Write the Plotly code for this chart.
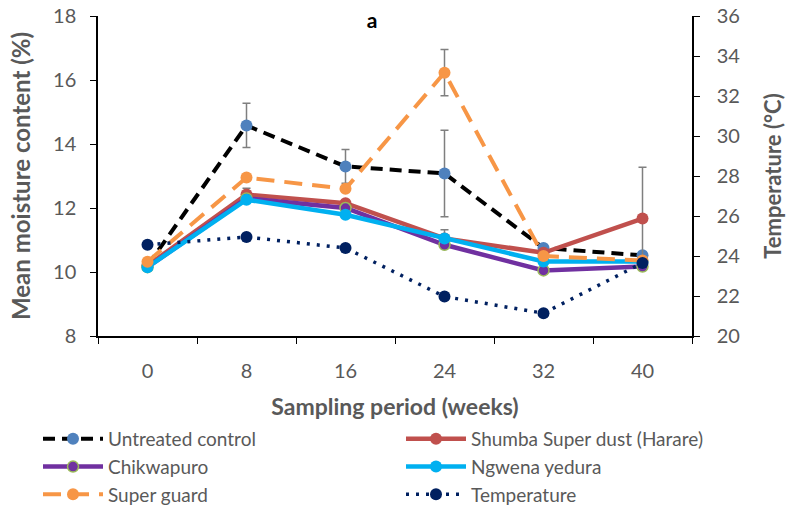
import plotly.graph_objects as go

weeks = ["0", "8", "16", "24", "32", "40"]
untreated = [10.2, 14.58, 13.3, 13.08, 10.75, 10.52]
untreated_err = [0, 0.69, 0.53, 1.35, 0, 0]
shumba = [10.2, 12.42, 12.15, 11.05, 10.6, 11.67]
shumba_err = [0, 0.2, 0, 0.27, 0, 1.6]
chikwapuro = [10.15, 12.3, 12.0, 10.85, 10.05, 10.17]
ngwena = [10.15, 12.26, 11.79, 11.05, 10.33, 10.33]
superguard = [10.32, 12.95, 12.6, 16.23, 10.5, 10.36]
superguard_err = [0, 0, 0, 0.72, 0, 0]
temperature = [24.56, 24.95, 24.4, 21.97, 21.14, 23.65]

FONT = "Lato"
GREY = "#595959"
ERR = dict(type="data", visible=True, color="#7f7f7f", thickness=1.5, width=4)

W, H = 788, 510

fig = go.Figure()
fig.add_trace(go.Scatter(
    x=weeks, y=untreated, name="Untreated control", mode="lines+markers", legend="legend",
    line=dict(color="black", width=4, dash="12px,7px"),
    marker=dict(color="#4F81BD", size=12),
    error_y=dict(array=untreated_err, **ERR)))
fig.add_trace(go.Scatter(
    x=weeks, y=shumba, name="Shumba Super dust (Harare)", mode="lines+markers", legend="legend2",
    line=dict(color="#C0504D", width=4.5),
    marker=dict(color="#C0504D", size=12),
    error_y=dict(array=shumba_err, **ERR)))
fig.add_trace(go.Scatter(
    x=weeks, y=chikwapuro, name="Chikwapuro", mode="lines+markers", legend="legend",
    line=dict(color="#7030A0", width=4.5),
    marker=dict(color="#7030A0", size=11, line=dict(color="#9BBB59", width=1.5))))
fig.add_trace(go.Scatter(
    x=weeks, y=ngwena, name="Ngwena yedura", mode="lines+markers", legend="legend2",
    line=dict(color="#00B0F0", width=4.5),
    marker=dict(color="#00B0F0", size=12)))
fig.add_trace(go.Scatter(
    x=weeks, y=superguard, name="Super guard", mode="lines+markers", legend="legend",
    line=dict(color="#F79646", width=4, dash="18px,10px"),
    marker=dict(color="#F79646", size=12),
    error_y=dict(array=superguard_err, **ERR)))
fig.add_trace(go.Scatter(
    x=weeks, y=temperature, name="Temperature", mode="lines+markers", yaxis="y2", legend="legend2",
    line=dict(color="#002060", width=3.5, dash="3px,7px"),
    marker=dict(color="#002060", size=12)))

leg_common = dict(orientation="v", xref="paper", yref="container", xanchor="left", yanchor="top",
                  itemwidth=60, font=dict(family=FONT, size=19, color=GREY),
                  traceorder="normal", bgcolor="rgba(0,0,0,0)")

fig.update_layout(
    width=W, height=H,
    margin=dict(l=98, r=96, t=16, b=174),
    paper_bgcolor="white", plot_bgcolor="white",
    font=dict(family=FONT, size=20, color=GREY),
    title=dict(text="<b>a</b>", x=372 / W, xanchor="center", y=1 - 21 / H, yanchor="middle",
               font=dict(family=FONT, size=21, color="black")),
    xaxis=dict(type="category", range=[-0.5, 5.5], showline=True, linecolor="black", linewidth=1.5,
               ticks="outside", ticklen=6, tickcolor="black", tickson="boundaries", automargin=False,
               ticklabelstandoff=16, showgrid=False, zeroline=False, tickangle=0,
               tickfont=dict(family=FONT, size=20, color=GREY),
               title=dict(text="<b>Sampling period (weeks)</b>", standoff=22,
                          font=dict(family=FONT, size=23, color=GREY))),
    yaxis=dict(range=[8, 18], dtick=2, showline=True, linecolor="black", linewidth=1.5,
               ticks="outside", ticklen=6, tickcolor="black", showgrid=False, zeroline=False,
               automargin=False, ticklabelstandoff=10, ticklabeloverflow="allow",
               tickfont=dict(family=FONT, size=20, color=GREY),
               title=dict(text="<b>Mean moisture content (%)</b>", standoff=16,
                          font=dict(family=FONT, size=24, color=GREY))),
    yaxis2=dict(range=[20, 36], dtick=2, overlaying="y", side="right", showline=True,
                linecolor="black", linewidth=1.5, ticks="outside", ticklen=6, tickcolor="black",
                showgrid=False, zeroline=False, automargin=False, ticklabelstandoff=13,
                ticklabeloverflow="allow",
                tickfont=dict(family=FONT, size=20, color=GREY),
                title=dict(text="<b>Temperature (°C)</b>", standoff=26,
                           font=dict(family=FONT, size=22, color=GREY))),
    legend=dict(x=(38 - 98) / 594, y=1 - 420 / H, **leg_common),
    legend2=dict(x=(401 - 98) / 594, y=1 - 420 / H, **leg_common),
    showlegend=True,
)

# remove the page's default 8px body margin so the 788x510 figure fills the window
fig.write_html("out.html", config={"displayModeBar": False},
               post_script="document.body.style.margin='0';")
